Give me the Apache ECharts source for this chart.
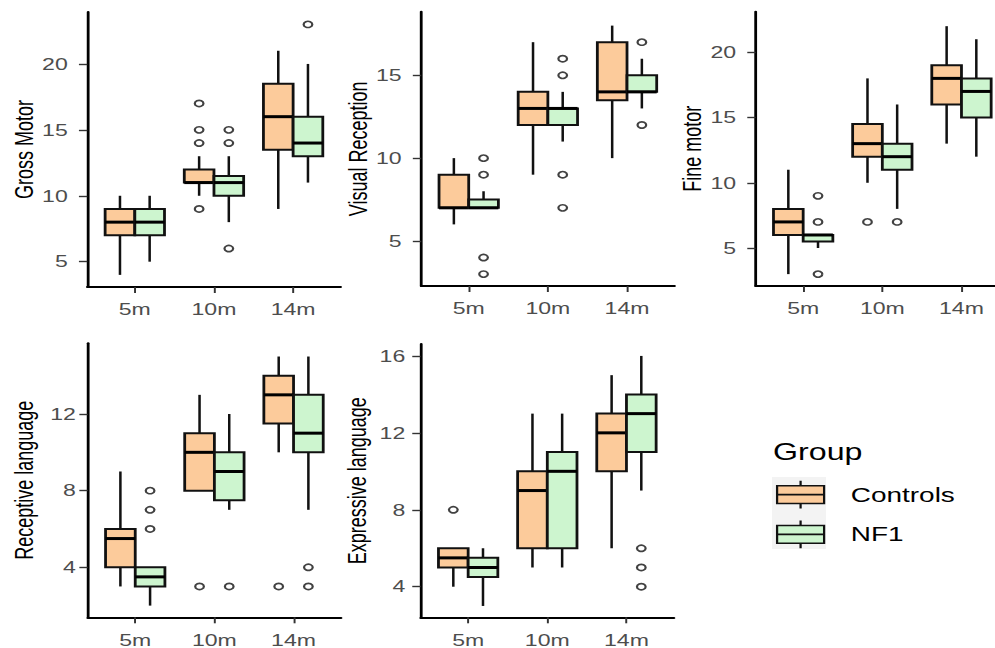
<!DOCTYPE html>
<html>
<head>
<meta charset="utf-8">
<script src="https://cdn.jsdelivr.net/npm/echarts@6/dist/echarts.min.js"></script>
<style>
  html, body { margin: 0; padding: 0; background: #fff; overflow: hidden; }
  /* the reference picture is stretched sideways, so draw narrow and stretch */
  #chart { width: 711px; height: 648px; transform: scaleX(1.3994); transform-origin: 0 0; }
</style>
</head>
<body>
<div id="chart"></div>
<script>
// categories and panels
const categories = ['5m', '10m', '14m']
const panelTitles = ['Gross Motor', 'Visual Reception', 'Fine motor', 'Receptive language', 'Expressive language']
const groups = ['Controls', 'NF1']

// five-number summaries per category: [low whisker, Q1, median, Q3, high whisker]
const gmCtrl = [[4, 7, 8, 9, 10], [10, 11, 11, 12, 13], [9, 13.5, 16, 18.5, 21]]
const gmNf1 = [[5, 7, 8, 9, 10], [8, 10, 11, 11.5, 13], [11, 13, 14, 16, 20]]
const gmCtrlOut = [[], [17, 15, 14, 9], []]
const gmNf1Out = [[], [15, 14, 6], [23]]

const vrCtrl = [[6, 7, 7, 9, 10], [9, 12, 13, 14, 17], [10, 13.5, 14, 17, 18]]
const vrNf1 = [[7, 7, 7, 7.5, 8], [11, 12, 13, 13, 14], [13, 14, 14, 15, 16]]
const vrCtrlOut = [[], [], []]
const vrNf1Out = [[10, 9, 4, 3], [16, 15, 9, 7], [17, 12]]

const fmCtrl = [[3, 6, 7, 8, 11], [10, 12, 13, 14.5, 18], [13, 16, 18, 19, 22]]
const fmNf1 = [[5, 5.5, 6, 6, 6], [8, 11, 12, 13, 16], [12, 15, 17, 18, 21]]
const fmCtrlOut = [[], [7], []]
const fmNf1Out = [[9, 7, 3], [7], []]

const rlCtrl = [[3, 4, 5.5, 6, 9], [8, 8, 10, 11, 13], [10, 11.5, 13, 14, 15]]
const rlNf1 = [[2, 3, 3.5, 4, 4], [7, 7.5, 9, 10, 12], [7, 10, 11, 13, 15]]
const rlCtrlOut = [[], [3], [3]]
const rlNf1Out = [[8, 7, 6], [3], [4, 3]]

const elCtrl = [[4, 5, 5.5, 6, 6], [5, 6, 9, 10, 13], [6, 10, 12, 13, 15]]
const elNf1 = [[3, 4.5, 5, 5.5, 6], [5, 6, 10, 11, 13], [9, 11, 13, 14, 16]]
const elCtrlOut = [[8], [], []]
const elNf1Out = [[], [], [6, 5, 4]]

// y axis ranges and tick labels
const yMin = [3.08, 2.28, 2.09, 1.39, 2.41]
const yMax = [23.94, 18.84, 23.11, 15.69, 16.62]
const yTicks = [[5, 10, 15, 20], [5, 10, 15], [5, 10, 15, 20], [4, 8, 12], [4, 8, 12, 16]]

const panels = [
  [gmCtrl, gmNf1, gmCtrlOut, gmNf1Out],
  [vrCtrl, vrNf1, vrCtrlOut, vrNf1Out],
  [fmCtrl, fmNf1, fmCtrlOut, fmNf1Out],
  [rlCtrl, rlNf1, rlCtrlOut, rlNf1Out],
  [elCtrl, elNf1, elCtrlOut, elNf1Out]
]

const FONT = '"Liberation Sans", Arial, sans-serif'
const fills = ['#fccb9b', '#cdf5cf']
const BOX_W = 0.375
const offsets = [-0.1875, 0.1875]

const gridPos = [
  { left: 62.4, top: 12, width: 181, height: 275 },
  { left: 301, top: 11.7, width: 181, height: 274.3 },
  { left: 540, top: 11.7, width: 181, height: 274.3 },
  { left: 62.7, top: 343.3, width: 181, height: 274 },
  { left: 300.6, top: 344, width: 181, height: 273.3 }
]
const labelMargin = [14, 14, 14, 8.5, 11]

function boxRenderer(offset, fill) {
  return function (params, api) {
    const x = api.value(0) + offset
    const xl = api.coord([x - BOX_W / 2, 0])[0]
    const xr = api.coord([x + BOX_W / 2, 0])[0]
    const xc = api.coord([x, 0])[0]
    const y = function (i) { return api.coord([x, api.value(i)])[1] }
    const lo = y(1), q1 = y(2), md = y(3), q3 = y(4), hi = y(5)
    const line = { stroke: '#111', lineWidth: 1.8 }
    return {
      type: 'group',
      children: [
        { type: 'line', shape: { x1: xc, y1: hi, x2: xc, y2: q3 }, style: line },
        { type: 'line', shape: { x1: xc, y1: q1, x2: xc, y2: lo }, style: line },
        { type: 'rect', shape: { x: xl, y: q3, width: xr - xl, height: q1 - q3 },
          style: { fill: fill, stroke: '#111', lineWidth: 2 } },
        { type: 'line', shape: { x1: xl, y1: md, x2: xr, y2: md },
          style: { stroke: '#000', lineWidth: 3 } }
      ]
    }
  }
}

const grid = [], xAxis = [], yAxis = [], series = []

panels.forEach(function (p, k) {
  grid.push(Object.assign({ outerBoundsMode: 'none', containLabel: false }, gridPos[k]))
  xAxis.push({
    type: 'value', gridIndex: k, min: 0.4, max: 3.6,
    axisLine: { onZero: false, lineStyle: { color: '#000', width: 2 } },
    axisTick: { customValues: [1, 2, 3], length: 6, lineStyle: { color: '#333', width: 1.4 } },
    axisLabel: {
      customValues: [1, 2, 3], margin: 14, color: '#4d4d4d', fontSize: 16.5, fontFamily: FONT,
      formatter: function (v) { return categories[Math.round(v) - 1] }
    },
    splitLine: { show: false }
  })
  yAxis.push({
    type: 'value', gridIndex: k, min: yMin[k], max: yMax[k],
    name: panelTitles[k], nameLocation: 'middle', nameRotate: 90, nameGap: 36,
    nameTextStyle: { fontSize: 18, color: '#000', fontFamily: FONT },
    axisLine: { onZero: false, lineStyle: { color: '#000', width: 2 } },
    axisTick: { customValues: yTicks[k], length: 6, lineStyle: { color: '#333', width: 1.4 } },
    axisLabel: { customValues: yTicks[k], margin: labelMargin[k], color: '#4d4d4d', fontSize: 16.5, fontFamily: FONT },
    splitLine: { show: false }
  })
  for (let g = 0; g < 2; g++) {
    series.push({
      type: 'custom', name: groups[g], xAxisIndex: k, yAxisIndex: k,
      itemStyle: { color: fills[g] },
      encode: { x: 0, y: [1, 2, 3, 4, 5] },
      renderItem: boxRenderer(offsets[g], fills[g]),
      data: p[g].map(function (d, i) { return [i + 1].concat(d) })
    })
  }
  for (let g = 0; g < 2; g++) {
    const pts = []
    p[2 + g].forEach(function (vals, i) {
      vals.forEach(function (v) { pts.push([i + 1 + offsets[g], v]) })
    })
    series.push({
      type: 'scatter', name: groups[g] + ' outliers', xAxisIndex: k, yAxisIndex: k,
      symbol: 'circle', symbolSize: 6.2, z: 3,
      itemStyle: { color: '#fff', borderColor: '#111', borderWidth: 1.6 },
      data: pts
    })
  }
})

const keyIcon = 'path://M0,5L34,5L34,23L0,23Z M0,14L34,14 M17,0L17,5 M17,23L17,28'

const chart = echarts.init(document.getElementById('chart'), null, { renderer: 'svg' })
chart.setOption({
  animation: false,
  backgroundColor: '#fff',
  title: {
    text: 'Group', left: 552.4, top: 441, padding: 0,
    textStyle: { fontSize: 23, fontWeight: 'normal', color: '#000', fontFamily: FONT }
  },
  graphic: [{
    type: 'rect', left: 551.7, top: 477, z: -1,
    shape: { width: 38.5, height: 72 }, style: { fill: '#f3f3f3' }
  }],
  legend: {
    orient: 'vertical', left: 554.5, top: 480, padding: 0,
    itemWidth: 33.6, itemHeight: 28, itemGap: 10.5,
    textStyle: { fontSize: 20, color: '#000', fontFamily: FONT, padding: [0, 0, 0, 14] },
    data: groups.map(function (g, i) {
      return { name: g, icon: keyIcon, itemStyle: { color: fills[i], borderColor: '#111', borderWidth: 1.6 } }
    })
  },
  grid: grid,
  xAxis: xAxis,
  yAxis: yAxis,
  series: series
})
</script>
</body>
</html>
